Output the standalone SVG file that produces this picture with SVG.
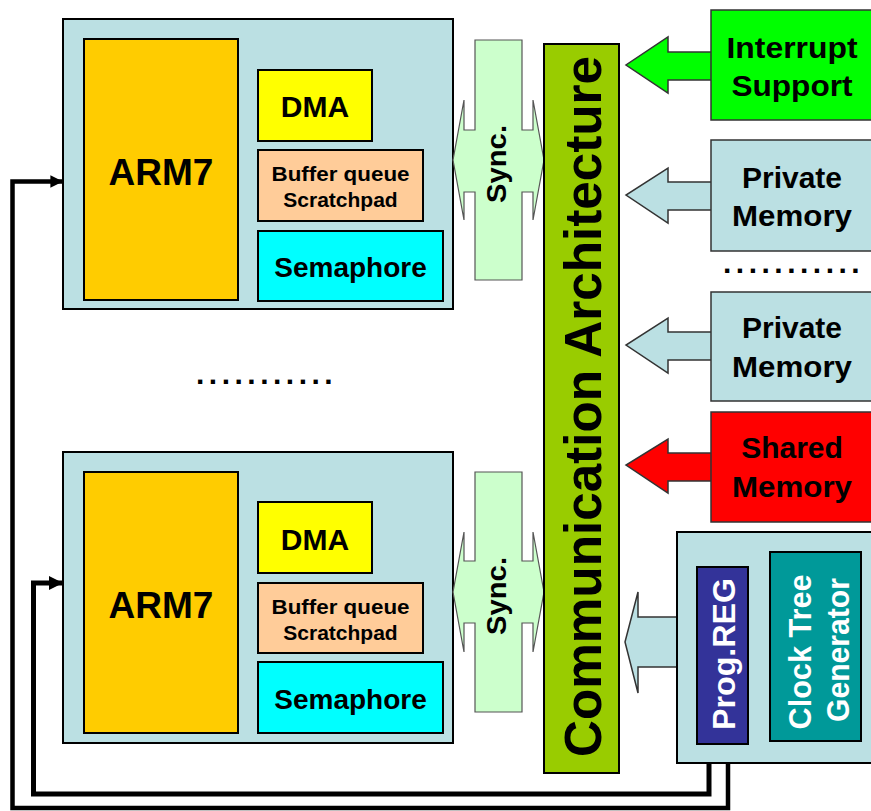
<svg xmlns="http://www.w3.org/2000/svg" width="871" height="811" viewBox="0 0 871 811">
<style>
text{font-family:"Liberation Sans",Arial,sans-serif;font-weight:bold;fill:#000}
.outer{fill:#BBE0E3;stroke:#000;stroke-width:2}
.arm{fill:#FFCC00;stroke:#000;stroke-width:2}
.dma{fill:#FFFF00;stroke:#000;stroke-width:2}
.buf{fill:#FFCC99;stroke:#000;stroke-width:2}
.sem{fill:#00FFFF;stroke:#000;stroke-width:2}
.sync{fill:#CCFFCC;stroke:#555;stroke-width:1.2}
.rbox{stroke:#333;stroke-width:1.5}
.wire{fill:none;stroke:#000;stroke-linejoin:miter}
.white{fill:#fff}
</style>
<defs>
<marker id="ah" viewBox="0 0 10 10" refX="10" refY="5" markerWidth="2.8" markerHeight="2.8" orient="auto" markerUnits="strokeWidth">
<path d="M0,0 L10,5 L0,10 z" fill="#000"/>
</marker>
</defs>

<g id="cpu1">
<rect class="outer" x="63" y="19" width="390" height="290"/>
<rect class="arm" x="84" y="39" width="154" height="261"/>
<text x="161" y="185" font-size="37" text-anchor="middle">ARM7</text>
<rect class="dma" x="258" y="70" width="114" height="71"/>
<text x="315" y="117" font-size="30" text-anchor="middle">DMA</text>
<rect class="buf" x="258" y="150" width="165" height="71"/>
<text x="340.5" y="181" font-size="21" text-anchor="middle" textLength="138" lengthAdjust="spacingAndGlyphs">Buffer queue</text>
<text x="340.5" y="207" font-size="21" text-anchor="middle">Scratchpad</text>
<rect class="sem" x="258" y="231" width="185" height="70"/>
<text x="350.5" y="277" font-size="28" text-anchor="middle">Semaphore</text>
</g>

<g id="cpu2">
<rect class="outer" x="63" y="452" width="390" height="291"/>
<rect class="arm" x="84" y="472" width="154" height="261"/>
<text x="161" y="618" font-size="37" text-anchor="middle">ARM7</text>
<rect class="dma" x="258" y="502" width="114" height="71"/>
<text x="315" y="550" font-size="30" text-anchor="middle">DMA</text>
<rect class="buf" x="258" y="583" width="165" height="70"/>
<text x="340.5" y="614" font-size="21" text-anchor="middle" textLength="138" lengthAdjust="spacingAndGlyphs">Buffer queue</text>
<text x="340.5" y="640" font-size="21" text-anchor="middle">Scratchpad</text>
<rect class="sem" x="258" y="662" width="185" height="71"/>
<text x="350.5" y="709" font-size="28" text-anchor="middle">Semaphore</text>
</g>

<g id="dots-left">
<text x="196" y="384" font-size="30" letter-spacing="4.5">...........</text>
</g>

<g id="sync1">
<polygon class="sync" points="475,40 522,40 522,130 533,130 533,100 544,160 533,220 533,192 522,192 522,280 475,280 475,192 464,192 464,220 453,160 464,100 464,130 475,130"/>
<text transform="translate(506,164) rotate(-90)" font-size="28" text-anchor="middle" textLength="78" lengthAdjust="spacingAndGlyphs">Sync.</text>
</g>

<g id="sync2">
<polygon class="sync" points="475,472 522,472 522,561 533,561 533,532 544,592 533,652 533,623 522,623 522,712 475,712 475,623 464,623 464,652 453,592 464,532 464,561 475,561"/>
<text transform="translate(506,596) rotate(-90)" font-size="28" text-anchor="middle" textLength="78" lengthAdjust="spacingAndGlyphs">Sync.</text>
</g>

<g id="comm">
<rect x="544" y="44" width="75" height="729" fill="#99CC00" stroke="#000" stroke-width="2"/>
<text transform="translate(601,406.5) rotate(-90)" font-size="52" text-anchor="middle" textLength="701" lengthAdjust="spacingAndGlyphs">Communication Architecture</text>
</g>

<g id="interrupt">
<polygon class="rbox" fill="#00FF00" points="712,52 668,52 668,37 626,65 668,93 668,80 712,80"/>
<rect class="rbox" fill="#00FF00" x="711" y="10" width="170" height="110"/>
<text x="792" y="58" font-size="30" text-anchor="middle" textLength="131" lengthAdjust="spacingAndGlyphs">Interrupt</text>
<text x="792" y="96" font-size="30" text-anchor="middle" textLength="121" lengthAdjust="spacingAndGlyphs">Support</text>
</g>

<g id="private1">
<polygon class="rbox" fill="#BBE0E3" points="712,182 668,182 668,168 626,195 668,223 668,210 712,210"/>
<rect class="rbox" fill="#BBE0E3" x="711" y="140" width="170" height="111"/>
<text x="792" y="188" font-size="30" text-anchor="middle">Private</text>
<text x="792" y="226" font-size="30" text-anchor="middle" textLength="120" lengthAdjust="spacingAndGlyphs">Memory</text>
</g>

<g id="dots-right">
<text x="723" y="273" font-size="30" letter-spacing="4.5">...........</text>
</g>

<g id="private2">
<polygon class="rbox" fill="#BBE0E3" points="712,332 668,332 668,318 626,345 668,373 668,360 712,360"/>
<rect class="rbox" fill="#BBE0E3" x="711" y="292" width="170" height="109"/>
<text x="792" y="338" font-size="30" text-anchor="middle">Private</text>
<text x="792" y="377" font-size="30" text-anchor="middle" textLength="120" lengthAdjust="spacingAndGlyphs">Memory</text>
</g>

<g id="shared">
<polygon class="rbox" fill="#FF0000" points="712,453 668,453 668,439 626,465 668,493 668,481 712,481"/>
<rect class="rbox" fill="#FF0000" x="711" y="412" width="170" height="110"/>
<text x="792" y="458" font-size="30" text-anchor="middle">Shared</text>
<text x="792" y="497" font-size="30" text-anchor="middle" textLength="120" lengthAdjust="spacingAndGlyphs">Memory</text>
</g>

<g id="control">
<polygon class="rbox" fill="#BBE0E3" points="678,617 638,617 638,592 625,642 638,693 638,667 678,667"/>
<rect x="677" y="532" width="204" height="231" fill="#BBE0E3" stroke="#000" stroke-width="2"/>
<g id="progreg">
<rect x="697" y="567" width="51" height="177" fill="#333399" stroke="#000" stroke-width="2"/>
<text class="white" transform="translate(735,654) rotate(-90)" font-size="32" text-anchor="middle" textLength="152" lengthAdjust="spacingAndGlyphs">Prog.REG</text>
</g>
<g id="clocktree">
<rect x="770" y="552" width="91" height="189" fill="#009999" stroke="#000" stroke-width="2"/>
<text class="white" transform="translate(811,652) rotate(-90)" font-size="32" text-anchor="middle" textLength="155" lengthAdjust="spacingAndGlyphs">Clock Tree</text>
<text class="white" transform="translate(849,650) rotate(-90)" font-size="32" text-anchor="middle" textLength="144" lengthAdjust="spacingAndGlyphs">Generator</text>
</g>
</g>

<g id="connectors">
<path class="wire" d="M709,764 V794 H33.5 V583 H63" stroke-width="5" marker-end="url(#ah)"/>
<path class="wire" d="M728,764 V808 H12.5 V181.5 H63" stroke-width="4.5" marker-end="url(#ah)"/>
</g>
</svg>
